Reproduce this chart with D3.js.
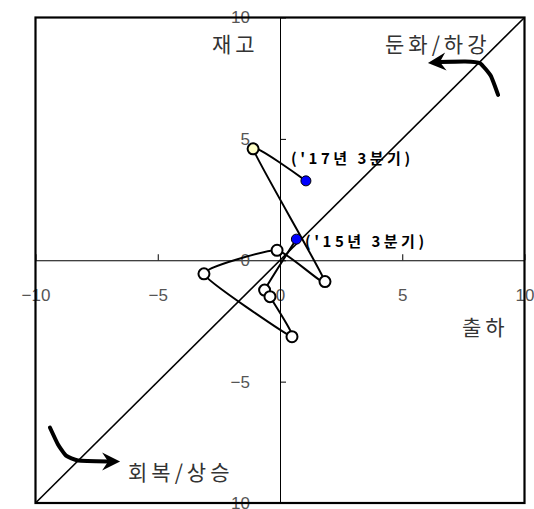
<!DOCTYPE html>
<html>
<head>
<meta charset="utf-8">
<script src="https://cdn.jsdelivr.net/npm/d3@7"></script>
<style>
  body { margin: 0; background: #fff; }
  svg { display: block; }
</style>
</head>
<body>
<svg id="chart" width="534" height="509"></svg>
<script>
// quarterly path, '15 Q3 -> '17 Q3 (x = 출하, y = 재고)
var shipX = [0.67, -0.63, -0.41, 0.49, -3.11, -0.12, 1.84, -1.10, 1.06];
var stockY = [0.87, -1.23, -1.50, -3.15, -0.56, 0.41, -0.88, 4.59, 3.27];
var pointFill = ["#0000ff", "#fff", "#fff", "#fff", "#fff", "#fff", "#fff", "#ffffc8", "#0000ff"];
var tickVals = [-10, -5, 0, 5, 10];

// hand drawn arrows, in chart units
var arrowTop = [[8.92, 6.81], [8.62, 7.60], [8.18, 8.12], [7.57, 8.19], [6.54, 8.17], [6.05, 8.13]];
var arrowBottom = [[-9.41, -6.89], [-9.08, -7.59], [-8.75, -8.05], [-8.26, -8.25], [-7.03, -8.29], [-6.54, -8.29]];

var svg = d3.select("#chart");
var x = d3.scaleLinear().domain([-10, 10]).range([35.5, 524.5]);
var y = d3.scaleLinear().domain([-10, 10]).range([503, 17.5]);

var tickFont = "'Liberation Sans Narrow', 'Liberation Sans', sans-serif";
var krFont = "'Noto Sans CJK KR', sans-serif";

// x axis through 0
var gx = svg.append("g")
  .attr("transform", "translate(0," + y(0) + ")")
  .call(d3.axisBottom(x).tickValues(tickVals).tickSize(-6).tickSizeOuter(0).tickPadding(30));
// y axis through 0
var gy = svg.append("g")
  .attr("transform", "translate(" + x(0) + ",0)")
  .call(d3.axisLeft(y).tickValues(tickVals).tickSize(-6).tickSizeOuter(0).tickPadding(30));

[gx, gy].forEach(function (g) {
  g.select(".domain").attr("stroke", "#000").attr("stroke-width", 1);
  g.selectAll(".tick line").attr("stroke", "#000");
  g.selectAll("text")
    .attr("font-family", tickFont)
    .attr("font-size", 17)
    .attr("fill", "#555");
});
gx.selectAll(".tick text").attr("dy", "0.62em");

// diagonal y = x
svg.append("line")
  .attr("x1", x(-10)).attr("y1", y(-10))
  .attr("x2", x(10)).attr("y2", y(10))
  .attr("stroke", "#000").attr("stroke-width", 1.6);

// frame
svg.append("rect")
  .attr("x", x(-10)).attr("y", y(10))
  .attr("width", x(10) - x(-10)).attr("height", y(-10) - y(10))
  .attr("fill", "none").attr("stroke", "#000").attr("stroke-width", 2.2);

// quadrant words
function word(t, px, py) {
  svg.append("text")
    .attr("x", px).attr("y", py)
    .attr("font-family", krFont)
    .attr("font-size", 21)
    .attr("letter-spacing", 4)
    .attr("fill", "#333")
    .text(t);
}
word("재고", 212, 52);
word("둔화/하강", 385, 52);
word("출하", 462, 335);
word("회복/상승", 128, 480);

var smooth = d3.line().x(function (d) { return x(d[0]); }).y(function (d) { return y(d[1]); })
  .curve(d3.curveCardinal.tension(0.55));

// arrows
function drawArrow(pts) {
  var body = pts.slice(0, pts.length - 1);
  svg.append("path")
    .attr("d", smooth(body))
    .attr("fill", "none").attr("stroke", "#000")
    .attr("stroke-width", 4).attr("stroke-linecap", "round");
  var tip = pts[pts.length - 1], prev = pts[pts.length - 2];
  var tx = x(tip[0]), ty = y(tip[1]);
  var dx = tx - x(prev[0]), dy = ty - y(prev[1]);
  var len = Math.sqrt(dx * dx + dy * dy);
  dx /= len; dy /= len;
  var nx = -dy, ny = dx;
  var L = 18, W = 9, N = 12;
  var head = [
    [tx, ty],
    [tx - dx * L + nx * W, ty - dy * L + ny * W],
    [tx - dx * N, ty - dy * N],
    [tx - dx * L - nx * W, ty - dy * L - ny * W]
  ];
  svg.append("path")
    .attr("d", "M" + head.join("L") + "Z")
    .attr("fill", "#000");
}
drawArrow(arrowTop);
drawArrow(arrowBottom);

// data path
var pts = shipX.map(function (v, i) { return [v, stockY[i], pointFill[i]]; });
svg.append("path")
  .attr("d", smooth(pts))
  .attr("fill", "none")
  .attr("stroke", "#000")
  .attr("stroke-width", 2);

svg.selectAll("circle.pt")
  .data(pts)
  .enter().append("circle")
  .attr("class", "pt")
  .attr("cx", function (d) { return x(d[0]); })
  .attr("cy", function (d) { return y(d[1]); })
  .attr("r", function (d, i) { return (i === 0 || i === pts.length - 1) ? 5 : 5.5; })
  .attr("fill", function (d) { return d[2]; })
  .attr("stroke", "#000")
  .attr("stroke-width", function (d, i) { return (i === 0 || i === pts.length - 1) ? 1 : 2; });

// period labels
function note(t, px, py) {
  svg.append("text")
    .attr("x", px).attr("y", py)
    .attr("font-family", krFont)
    .attr("font-size", 15)
    .attr("font-weight", "bold")
    .attr("letter-spacing", 3.5)
    .attr("fill", "#000")
    .text(t);
}
note("('17년 3분기)", 291, 164);
note("('15년 3분기)", 305, 247);
</script>
</body>
</html>
